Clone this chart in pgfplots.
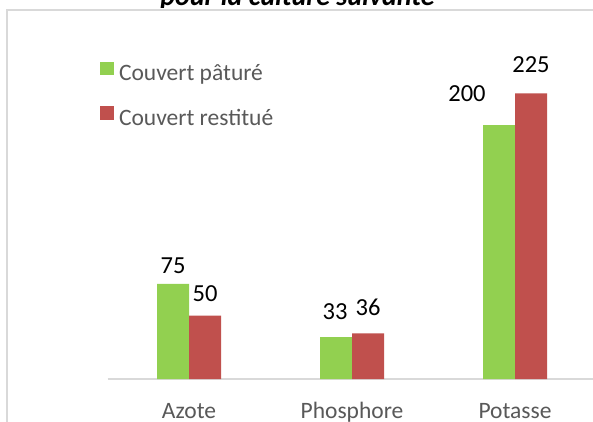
\documentclass[border=0pt]{standalone}
\usepackage{pgfplots}
\pgfplotsset{compat=1.18}
\usepackage{pgfplotstable}
\usepackage{fontspec}
\setmainfont{Carlito}
\definecolor{barG}{HTML}{92D050}
\definecolor{barR}{HTML}{C0504D}
\definecolor{txtgray}{HTML}{595959}
\definecolor{linegray}{HTML}{D9D9D9}
\newcommand\fs[1]{\fontsize{#1}{#1}\selectfont}

\pgfplotstableread{
x v dx dy
0 75 -16 10.75
1 33 -17 17.8
2 200 -48 24
}\greendata
\pgfplotstableread{
x v dx dy
0 50 16 13.8
1 36 16 17.3
2 225 16 21.25
}\reddata

\begin{document}
\begin{tikzpicture}[x=1bp,y=1bp]
\useasboundingbox (0,0) rectangle (593,421);
\clip (0,0) rectangle (593,421);
\fill[white] (0,0) rectangle (593,421);
\node[font=\fs{28bp}\bfseries\itshape, anchor=base, inner sep=0pt] at (297.5,415) {pour la culture suivante};
\fill[white] (7,-5) rectangle (600,413);
\draw[linegray, line width=1.2bp] (7,-5) -- (7,411) -- (600,411);
\begin{axis}[
  at={(107.5bp,42bp)}, anchor=south west,
  scale only axis, width=489bp, height=381bp,
  xmin=-0.5, xmax=2.5, ymin=0, ymax=300,
  axis y line=none, axis x line*=bottom,
  x axis line style={draw=linegray, line width=1.2bp},
  xtick={0,1,2}, xticklabels={Azote,Phosphore,Potasse},
  major tick length=0pt, ytick=\empty,
  xticklabel style={font=\fs{23.5bp}, text=txtgray, anchor=base, yshift=-39bp, inner sep=0pt},
  clip=false,
  /pgf/number format/assume math mode=true,
  legend cell align=left,
  legend style={at={(axis description cs:-0.01534,0.8333)}, anchor=north west,
    draw=none, fill=none, inner sep=0pt, outer sep=0pt,
    font=\fs{23.5bp}, text=txtgray, row sep=20.5bp,
    nodes={inner sep=0pt, text height=17bp, text depth=5bp},
    /tikz/every odd column/.append style={column sep=5.5bp}},
  legend image code/.code={\fill[#1] (0bp,-0.5bp) rectangle (13.5bp,13bp);},
  nodes near coords,
  visualization depends on={\thisrow{dx} \as \dx},
  visualization depends on={\thisrow{dy} \as \dy},
  every node near coord/.append style={font=\fs{24.5bp}, text=black, anchor=base, inner sep=0pt, xshift=\dx bp, yshift=\dy bp},
]
\addplot[ybar, fill=barG, draw=none, bar width=32bp, bar shift=-16bp] table[x=x,y=v] {\greendata};
\addlegendentry{Couvert pâturé}
\addplot[ybar, fill=barR, draw=none, bar width=32bp, bar shift=16bp] table[x=x,y=v] {\reddata};
\addlegendentry{Couvert restitué}
\end{axis}
\end{tikzpicture}
\end{document}
